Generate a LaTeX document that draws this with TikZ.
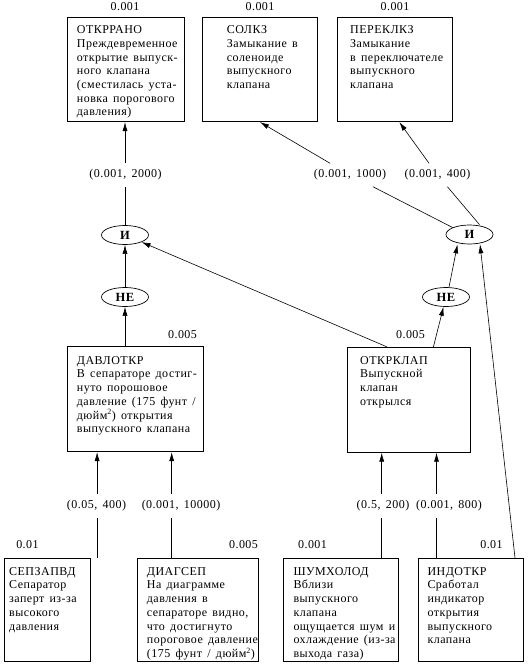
\documentclass[tikz,border=0pt]{standalone}
\usepackage{fontspec}
\setmainfont{Liberation Serif}[LetterSpace=4, WordSpace=1.5]
\usetikzlibrary{shapes.geometric,arrows.meta}
\begin{document}
\begin{tikzpicture}[x=1pt,y=-1pt,
  font=\fontsize{12}{13.7}\selectfont,
  box/.style={draw, line width=0.8pt, inner sep=0pt},
  txt/.style={anchor=north west, inner sep=0pt, align=left},
  prob/.style={inner sep=0pt},
  gate/.style={ellipse, draw, line width=0.7pt, minimum width=47pt, minimum height=19pt, inner sep=0pt, font=\fontsize{12.5}{14}\selectfont\bfseries},
  lab/.style={inner xsep=2pt, inner ysep=0pt, minimum height=23pt},
  conn/.style={line width=0.6pt},
  arr/.style={conn, -{Latex[length=9pt,width=5pt]}}]
\fill[white] (0,0) rectangle (531,664);
\useasboundingbox (0,0) rectangle (531,664);
\newcommand{\fl}{\rule{0pt}{9pt}}
% top boxes
\node[box, minimum width=116.6pt, minimum height=104.4pt] (otk) at (126,69.5) {};
\node[box, minimum width=114.6pt, minimum height=104.4pt] (sol) at (260,69.5) {};
\node[box, minimum width=115pt, minimum height=104.4pt] (per) at (394.8,69.5) {};
\node[txt] (otkT) at (76.7,24.5) {\fl ОТКРРАНО\\Преждевременное\\открытие выпуск-\\ного клапана\\(сместилась уста-\\новка порогового\\давления)};
\node[txt] (solT) at (226.7,24.5) {\fl СОЛКЗ\\Замыкание в\\соленоиде\\выпускного\\клапана};
\node[txt] (perT) at (350,24.5) {\fl ПЕРЕКЛКЗ\\Замыкание\\в переключателе\\выпускного\\клапана};
\node[prob] (otkP) at (125,7) {0.001};
\node[prob] (solP) at (260,7) {0.001};
\node[prob] (perP) at (395,7) {0.001};
% middle boxes
\node[box, minimum width=135.6pt, minimum height=105pt] (dav) at (135.5,399.2) {};
\node[box, minimum width=122.7pt, minimum height=105pt] (okl) at (408.7,399.8) {};
\node[txt] (davT) at (76.7,355) {\fl ДАВЛОТКР\\В сепараторе достиг-\\нуто порошовое\\давление (175 фунт /\\дюйм\textsuperscript{2}) открытия\\выпускного клапана};
\node[txt] (oklT) at (360,355) {\fl ОТКРКЛАП\\Выпускной\\клапан\\открылся};
\node[prob] (davP) at (182.5,335) {0.005};
\node[prob] (oklP) at (410.5,335) {0.005};
% bottom boxes
\node[box, minimum width=86pt, minimum height=103.4pt] (sep) at (47,610) {};
\node[box, minimum width=121pt, minimum height=103.4pt] (dia) at (197.5,610) {};
\node[box, minimum width=115pt, minimum height=103.4pt] (shum) at (340.5,610) {};
\node[box, minimum width=105pt, minimum height=103.4pt] (ind) at (470.5,610) {};
\node[txt] (sepT0) at (9,566) {\fl СЕПЗАПВД\\Сепаратор\\заперт из-за\\высокого\\давления};
\node[txt] (diaT0) at (146.7,566) {\fl ДИАГСЕП\\На диаграмме\\давления в\\сепараторе видно,\\что достигнуто\\пороговое давление\\(175 фунт / дюйм\textsuperscript{2})};
\node[txt] (shumT0) at (293.3,566) {\fl ШУМХОЛОД\\Вблизи\\выпускного\\клапана\\ощущается шум и\\охлаждение (из-за\\выхода газа)};
\node[txt] (indT0) at (427.3,566) {\fl ИНДОТКР\\Сработал\\индикатор\\открытия\\выпускного\\клапана};
\node[prob] (sepP) at (27.5,545) {0.01};
\node[prob] (diaP) at (243.5,545) {0.005};
\node[prob] (shumP) at (312.5,545) {0.001};
\node[prob] (indP) at (491.5,545) {0.01};
% gates
\node[gate] (and1) at (125,235) {И};
\node[gate] (not1) at (125,297) {НЕ};
\node[gate] (and2) at (469.5,234.5) {И};
\node[gate] (not2) at (446,297) {НЕ};
% edge labels
\node[lab] (l2000) at (125.5,175) {(0.001, 2000)};
\node[lab] (l1000) at (350,175) {(0.001, 1000)};
\node[lab] (l400) at (437.5,175) {(0.001, 400)};
\node[lab] (l05) at (96.5,506) {(0.05, 400)};
\node[lab] (l10000) at (181,506) {(0.001, 10000)};
\node[lab] (l200) at (383,506) {(0.5, 200)};
\node[lab] (l800) at (449,506) {(0.001, 800)};
% connectors top
\draw[conn] (and1) -- (and1 |- l2000.south);
\draw[arr] (and1 |- l2000.north) -- (and1 |- otk.south);
\draw[arr] (not1) -- (and1);
\draw[arr] (not1 |- dav.north) -- (not1);
\draw[arr] ([xshift=-21.7pt]okl.north) -- (and1);
\draw[arr] ([xshift=24.7pt]okl.north) -- (not2);
\draw[arr] ([xshift=3pt]not2.north) -- ([xshift=-12pt]and2.south);
\draw[arr] ([xshift=44.5pt]ind.north) -- ([xshift=10.5pt]and2.south);
\draw[conn] (and2.north west) -- (l1000);
\draw[arr] (l1000) -- (sol.south);
\draw[conn] ([xshift=10pt]and2.north) -- (l400);
\draw[arr] (l400) -- ([xshift=4.5pt]per.south);
% connectors bottom
\coordinate (sepC) at ([xshift=6.7pt]sep.north east);
\coordinate (diaC) at ([xshift=-25.8pt]dia.north);
\coordinate (shumC) at ([xshift=41.2pt]shum.north);
\coordinate (indC) at ([xshift=-34pt]ind.north);
\draw[conn] (sepC) -- (sepC |- l05.south);
\draw[arr] (sepC |- l05.north) -- (sepC |- dav.south);
\draw[conn] (diaC) -- (diaC |- l10000.south);
\draw[arr] (diaC |- l10000.north) -- (diaC |- dav.south);
\draw[conn] (shumC) -- (shumC |- l200.south);
\draw[arr] (shumC |- l200.north) -- (shumC |- okl.south);
\draw[conn] (indC) -- (indC |- l800.south);
\draw[arr] (indC |- l800.north) -- (indC |- okl.south);
\end{tikzpicture}
\end{document}
